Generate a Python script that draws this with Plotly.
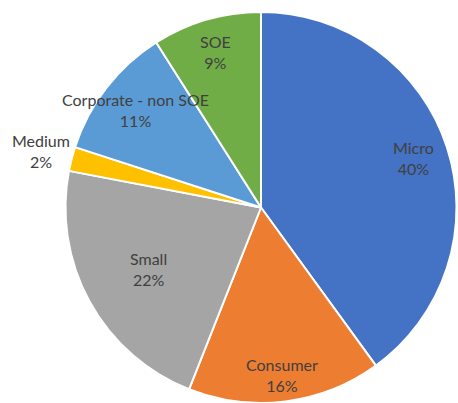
import math
import plotly.graph_objects as go

categories = ["Micro", "Consumer", "Small", "Medium", "Corporate - non SOE", "SOE"]
values = [40, 16, 22, 2, 11, 9]
colors = ["#4472C4", "#ED7D31", "#A5A5A5", "#FFC000", "#5B9BD5", "#70AD47"]
label_r = [0.82, 0.865, 0.655, 1.16, 0.81, 0.83]  # label distance as fraction of radius

W, H = 458, 403
cx, cy, R = 261, 207.5, 195.5  # pixels from top-left

fig = go.Figure(go.Pie(
    labels=categories,
    values=values,
    sort=False,
    direction="clockwise",
    rotation=0,
    marker=dict(colors=colors, line=dict(color="white", width=2)),
    textinfo="none",
    hoverinfo="label+percent",
    domain=dict(x=[(cx - R) / W, (cx + R) / W], y=[0, (2 * (H - cy)) / H]),
    showlegend=False,
))

total = sum(values)
cum = 0
for name, v, rf in zip(categories, values, label_r):
    mid = (cum + v / 2) / total * 2 * math.pi
    cum += v
    px = cx + rf * R * math.sin(mid)
    py = cy - rf * R * math.cos(mid)
    pct = round(v / total * 100)
    fig.add_annotation(
        x=px / W, y=1 - py / H, xref="paper", yref="paper",
        text=f"{name}<br>{pct}%", showarrow=False,
        font=dict(family="Lato", size=16, color="#404040"),
        xanchor="center", yanchor="middle",
    )

fig.update_layout(
    width=W, height=H,
    margin=dict(l=0, r=0, t=0, b=0),
    paper_bgcolor="white", plot_bgcolor="white",
)

fig.write_html("out.html")
